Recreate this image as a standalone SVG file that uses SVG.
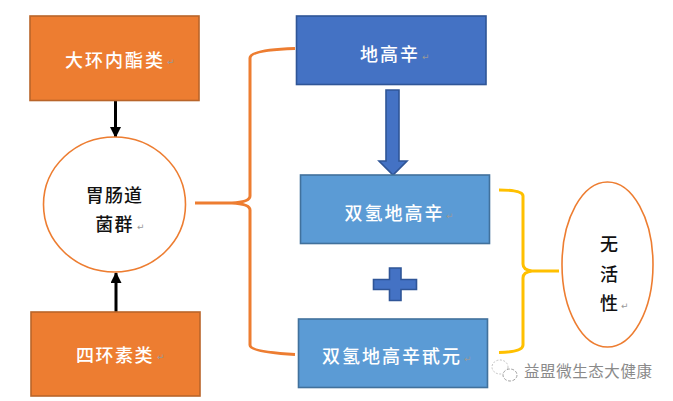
<svg xmlns="http://www.w3.org/2000/svg" width="673" height="401" viewBox="0 0 673 401">
<style>
text{font-family:"Noto Sans CJK SC","Liberation Sans",sans-serif}
.o{fill:#ed7d31;stroke:#b9652a;stroke-width:1.6}
.b{fill:#4472c4;stroke:#2f5597;stroke-width:1.6}
.l{fill:#5b9bd5;stroke:#41719c;stroke-width:1.6}
.c{fill:#fff;stroke:#ed7d31;stroke-width:1.6}
.w{fill:#fff;font-size:18px;font-weight:500;letter-spacing:2px}
.k{fill:#111;font-size:18px;font-weight:500;text-anchor:middle}
.s{letter-spacing:1.2px}
.r{fill:#999;font-size:9px;font-family:"DejaVu Sans",sans-serif}
.br{fill:none;stroke-width:3}
</style>
<defs><marker id="ah" markerUnits="userSpaceOnUse" markerWidth="12" markerHeight="12" refX="10" refY="5.500" orient="auto"><path d="M0 0L11 5.500L0 11Z" fill="#000"/></marker></defs>
<g id="connectors">
<path d="M115.500 101V137" stroke="#000" stroke-width="3" fill="none" marker-end="url(#ah)"/>
<path d="M116 312V273" stroke="#000" stroke-width="3" fill="none" marker-end="url(#ah)"/>
<path class="br" stroke="#ed7d31" d="M295 48.500Q250 50 250 58V196Q250 202 232 203H195M232 203Q250 204 250 210V345Q250 352 295 354.500"/>
<path class="br" stroke="#ffc000" d="M499 190Q523 190 523 196V264Q523 270 532 271H559M532 271Q523 272 523 278V345Q523 352 499 352.500"/>
<path class="b" d="M386 90H399V161H407L393 175L379 161H386Z"/>
</g>
<g id="n1"><rect class="o" x="30" y="16" width="169" height="84.500"/><text class="w" x="65" y="67">大环内酯类</text><text class="r" x="167" y="65">↵</text></g>
<g id="n2"><rect class="o" x="31" y="312" width="169" height="84"/><text class="w" x="76" y="362" style="letter-spacing:1.500px">四环素类</text><text class="r" x="157" y="360">↵</text></g>
<g id="n3"><ellipse class="c" cx="114.500" cy="204.500" rx="71" ry="67.500"/><text class="k s" x="114.500" y="202">胃肠道</text><text class="k s" x="114.500" y="231">菌群</text><text class="r" x="137" y="230">↵</text></g>
<g id="n4"><rect class="b" x="296.500" y="16" width="189.500" height="68.500"/><text class="w" x="360" y="61">地高辛</text><text class="r" x="422" y="60">↵</text></g>
<g id="n5"><rect class="l" x="300.500" y="175" width="189" height="68.500"/><text class="w" x="344.500" y="220">双氢地高辛</text><text class="r" x="446" y="219">↵</text></g>
<g id="plus"><path class="b" d="M389.500 268H401V279.500H416.500V289.500H401V300.500H389.500V289.500H373.500V279.500H389.500Z"/></g>
<g id="n6"><rect class="l" x="298.500" y="319" width="189" height="68.500"/><text class="w" x="322" y="363">双氢地高辛甙元</text><text class="r" x="464" y="362">↵</text></g>
<g id="n7"><ellipse class="c" cx="607.500" cy="264.500" rx="45.500" ry="82.500"/><text class="k" x="609" y="251">无</text><text class="k" x="609" y="281">活</text><text class="k" x="609" y="310">性</text><text class="r" x="621" y="309">↵</text></g>
<g id="watermark"><ellipse cx="500" cy="367" rx="8" ry="7" fill="#fff" stroke="#aaa" stroke-width=".7" stroke-dasharray="2 1.500"/><ellipse cx="510" cy="375" rx="7" ry="6" fill="#fff" stroke="#777" stroke-width=".7" stroke-dasharray="3 1.500"/><text x="524" y="377" font-size="15.500" fill="#8a8a8a" textLength="128">益盟微生态大健康</text></g>
</svg>
